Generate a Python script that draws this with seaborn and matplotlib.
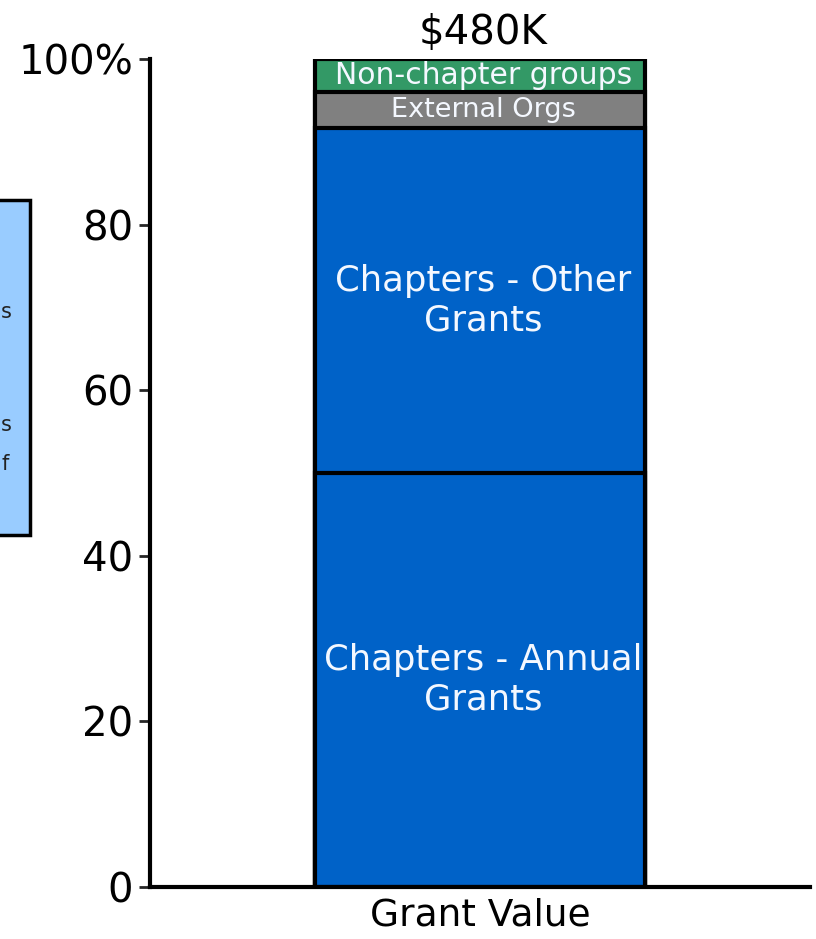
import matplotlib as mpl
mpl.use('Agg')
import matplotlib.pyplot as plt
import seaborn as sns
import pandas as pd
import numpy as np
from matplotlib.patches import Rectangle

# data
category = ["Grant Value"]
segments = ["Chapters - Annual\nGrants", "Chapters - Other\nGrants", "External Orgs", "Non-chapter groups"]
shares = [50.0, 41.7, 4.3, 4.0]
colors = ["#0062C8", "#0062C8", "#808080", "#339966"]
label_sizes = [25.5, 25.5, 19.5, 21.5]
total_label = "$480K"
yticks = [0, 20, 40, 60, 80, 100]
ytick_labels = ["0", "20", "40", "60", "80", "100%"]

sns.set_style("white")
plt.rcParams['font.family'] = ['DejaVu Sans']

fig = plt.figure(figsize=(8.16, 9.39), dpi=100)
ax = fig.add_axes([150/816, 1 - 887/939, 660/816, (887-59)/939])

cum = np.cumsum(shares)
# draw from the top layer down so each lower layer covers the one above
for i in reversed(range(len(shares))):
    df = pd.DataFrame({"cat": category, "val": [cum[i]]})
    sns.barplot(data=df, x="cat", y="val", color=colors[i], saturation=1,
                width=0.5, edgecolor="black", linewidth=3, ax=ax)

bottoms = cum - np.array(shares)
for i, seg in enumerate(segments):
    ax.text(0.005, bottoms[i] + shares[i] / 2, seg, ha="center", va="center",
            color="#F4F8FF", fontsize=label_sizes[i], linespacing=1.2)

ax.text(0.005, 100.7, total_label, ha="center", va="bottom", fontsize=29, color="black")

ax.set_xlim(-0.5, 0.5)
ax.set_ylim(0, 100)
ax.set_yticks(yticks)
ax.set_yticklabels(ytick_labels, fontsize=29, color="black")
ax.tick_params(axis="y", left=True, length=8, width=2, pad=4)
ax.tick_params(axis="x", bottom=False, labelsize=27, pad=4, labelcolor="black")
ax.set_xlabel("")
ax.set_ylabel("")
for s in ["top", "right"]:
    ax.spines[s].set_visible(False)
for s in ["left", "bottom"]:
    ax.spines[s].set_linewidth(3)
    ax.spines[s].set_color("black")

# note box that runs off the left edge
fig.patches.append(Rectangle((-0.05, 1 - 535/939), 0.05 + 30/816, (535-200)/939,
                             transform=fig.transFigure, facecolor="#99CCFF",
                             edgecolor="black", linewidth=2.5, zorder=5))
fig.text(0.5/816, 1 - 312/939, "s", fontsize=15, ha="left", va="center", zorder=6, color="#222222")
fig.text(0.5/816, 1 - 425/939, "s", fontsize=15, ha="left", va="center", zorder=6, color="#222222")
fig.text(1/816, 1 - 464/939, "f", fontsize=15, ha="left", va="center", zorder=6, color="#222222")

fig.savefig("out.png", dpi=100)
